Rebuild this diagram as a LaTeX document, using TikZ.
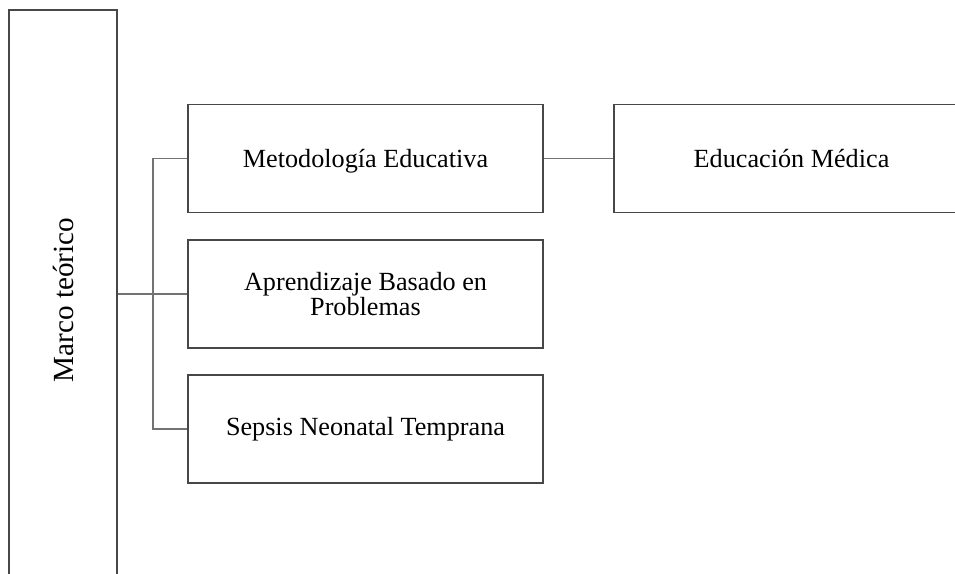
\documentclass[tikz,border=0pt]{standalone}
\usepackage{fontspec}
\setmainfont{Liberation Serif}
\begin{document}
\begin{tikzpicture}[x=1pt,y=-1pt,
  box/.style={draw=black!72, line width=1.1pt, minimum width=355pt, minimum height=108pt,
    inner sep=0pt, align=center, font=\fontsize{26.2pt}{25pt}\selectfont},
  link/.style={draw=black!55, line width=1.1pt}]
\useasboundingbox (0,0) rectangle (955,573);
\clip (0,0) rectangle (955,573);
\node[box, rotate=90, minimum width=580pt, minimum height=108pt,
  font=\fontsize{29.2pt}{29pt}\selectfont] (mt) at (63,300) {Marco teórico};
\node[box, text depth=0pt] (b1) at (365.5,158.5) {Metodología Educativa};
\node[box] (b2) at (365.5,294) {Aprendizaje Basado en\\Problemas};
\node[box] (b3) at (365.5,429) {Sepsis Neonatal Temprana};
\node[box] (b4) at (791.5,158.5) {Educación Médica};
\coordinate (sp) at (153,0);
\draw[link] (b2.west -| mt.south) -- (b2.west);
\draw[link] (b1.west) -| (sp |- b3.west) -- (b3.west);
\draw[link] (b1.east) -- (b4.west);
\end{tikzpicture}
\end{document}
